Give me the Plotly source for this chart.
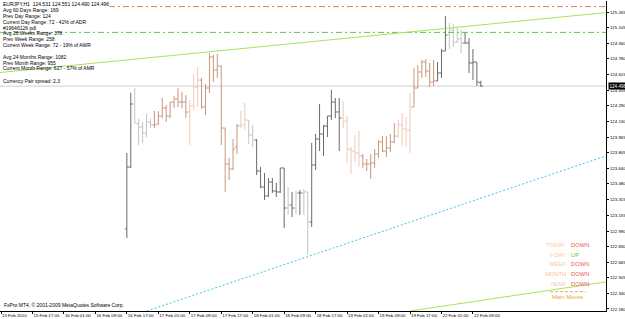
import plotly.graph_objects as go

# ---------------- data (EURJPY H1) ----------------
bar_index = list(range(32, 123))
opens = [123.011, 123.655, 124.310, 124.102, 124.071, 124.008, 124.123, 124.092, 124.102, 124.185,
         124.268, 124.185, 124.330, 124.362, 124.330, 124.330, 124.227, 124.289, 124.486, 124.559,
         124.279, 124.476, 124.798, 124.663, 124.704, 124.060, 123.686, 123.634, 123.863, 124.081,
         124.092, 124.143, 123.988, 123.936, 123.614, 123.447, 123.354, 123.499, 123.406, 123.396,
         123.645, 123.229, 123.261, 123.229, 123.385, 123.385, 123.396, 123.084, 123.676, 123.946,
         123.998, 124.081, 124.185, 124.330, 124.227, 124.164, 124.133, 123.842, 123.821, 123.801,
         123.770, 123.686, 123.686, 123.697, 123.790, 123.915, 123.821, 123.853, 123.915, 123.977,
         124.092, 124.050, 124.040, 124.279, 124.476, 124.642, 124.746, 124.652, 124.538, 124.549,
         124.632, 124.860, 125.026, 125.078, 124.954, 124.985, 124.943, 124.943, 124.736, 124.746,
         124.531]
highs = [123.801, 124.427, 124.476, 124.154, 124.123, 124.206, 124.154, 124.237, 124.237, 124.372,
         124.299, 124.330, 124.393, 124.476, 124.434, 124.403, 124.351, 124.621, 124.694, 124.580,
         124.517, 124.839, 124.819, 124.829, 124.704, 124.060, 123.749, 123.946, 124.102, 124.237,
         124.320, 124.143, 124.092, 123.946, 123.655, 123.593, 123.541, 123.541, 123.489, 123.645,
         123.645, 123.447, 123.396, 123.406, 123.416, 123.427, 123.396, 123.905, 123.998, 124.310,
         124.092, 124.185, 124.455, 124.372, 124.372, 124.341, 124.185, 123.863, 123.988, 124.029,
         123.790, 123.738, 123.790, 123.842, 123.936, 123.977, 123.977, 123.998, 124.112, 124.143,
         124.216, 124.175, 124.424, 124.684, 124.715, 124.767, 124.777, 124.736, 124.767, 124.746,
         124.881, 125.224, 125.151, 125.141, 125.099, 125.078, 125.058, 124.995, 124.881, 124.746,
         124.551]
lows = [122.918, 123.645, 124.112, 123.884, 123.905, 123.967, 124.060, 124.060, 124.092, 124.164,
        124.123, 124.164, 124.268, 124.279, 124.268, 124.164, 123.884, 124.247, 124.279, 124.258,
        124.195, 124.424, 124.538, 124.580, 123.884, 123.396, 123.520, 123.624, 123.790, 124.060,
        124.040, 123.894, 123.863, 123.572, 123.437, 123.312, 123.344, 123.385, 123.344, 123.385,
        123.022, 123.157, 123.136, 123.167, 123.157, 123.157, 122.741, 123.032, 123.624, 123.821,
        123.770, 123.967, 124.143, 124.164, 123.821, 124.060, 123.697, 123.583, 123.707, 123.655,
        123.645, 123.614, 123.531, 123.645, 123.749, 123.811, 123.759, 123.811, 123.905, 123.957,
        123.873, 123.863, 123.801, 124.279, 124.476, 124.580, 124.590, 124.486, 124.497, 124.549,
        124.580, 124.860, 124.881, 124.902, 124.943, 124.839, 124.943, 124.632, 124.559, 124.497,
        124.490]
closes = [123.655, 124.310, 124.112, 124.071, 124.008, 124.123, 124.092, 124.092, 124.185, 124.268,
          124.185, 124.330, 124.362, 124.330, 124.330, 124.227, 124.289, 124.486, 124.559, 124.279,
          124.476, 124.798, 124.663, 124.704, 124.060, 123.686, 123.634, 123.842, 124.081, 124.092,
          124.143, 123.988, 123.936, 123.614, 123.447, 123.354, 123.499, 123.406, 123.396, 123.645,
          123.229, 123.261, 123.229, 123.385, 123.385, 123.396, 123.084, 123.676, 123.946, 123.998,
          124.081, 124.185, 124.330, 124.227, 124.164, 124.133, 123.842, 123.821, 123.801, 123.770,
          123.686, 123.686, 123.697, 123.790, 123.915, 123.821, 123.853, 123.915, 123.977, 124.092,
          124.050, 124.040, 124.279, 124.476, 124.642, 124.746, 124.652, 124.538, 124.549, 124.632,
          124.860, 125.026, 125.078, 124.954, 124.985, 124.943, 124.943, 124.736, 124.746, 124.538,
          124.496]
# indicator group of each bar: d = dark, g = grey, b = brown, p = pale
bar_group = ("dd" "ggggg" "bbbbbbbbb" "ppp" "bbbbbbbbbb" "pp" "gg" "dddddddd" "gdgdgg"
             "dddddddd" "ppppp" "bbbbbbbbb" "pppp" "bbbbbb" "ddd" "gggg" "ddddd")

tick_index = [0, 8, 16, 24, 32, 40, 48, 56, 64, 72, 80, 88, 96, 104, 112, 120]
tick_labels = ["15 Feb 2010", "15 Feb 17:00", "16 Feb 01:00", "16 Feb 09:00", "16 Feb 17:00",
               "17 Feb 01:00", "17 Feb 09:00", "17 Feb 17:00", "18 Feb 01:00", "18 Feb 09:00",
               "18 Feb 17:00", "19 Feb 01:00", "19 Feb 09:00", "19 Feb 17:00", "22 Feb 01:00",
               "22 Feb 09:00"]
price_ticks = [122.180, 122.340, 122.505, 122.665, 122.830, 122.990, 123.155, 123.315, 123.480,
               123.640, 123.805, 123.965, 124.130, 124.290, 124.455, 124.615, 124.780, 124.940,
               125.105, 125.265]

bid_price = 124.496
red_level = 125.322
red_level_start = 23.9
green_level = 125.054
upper_trend_x = [-0.25, 153.8]
upper_trend_y = [124.637, 125.260]
lower_trend_x = [104.0, 153.8]
lower_trend_y = [122.159, 122.461]
cyan_trend_x = [37.1, 153.8]
cyan_trend_y = [122.159, 123.770]

comment_lines = [
    ("EURJPY,H1  124.531 124.551 124.490 124.496", 4.5),
    ("Avg 60 Days Range: 169", 10.2),
    ("Prev Day Range: 124", 15.8),
    ("Current Day Range: 72 - 42% of ADR", 21.6),
    ("#19646126 pdl", 28.0),
    ("Avg 26 Weeks Range: 378", 33.4),
    ("Prev Week Range: 258", 39.0),
    ("Current Week Range: 72 - 19% of AWR", 44.5),
    ("Avg 24 Months Range: 1082", 57.3),
    ("Prev Month Range: 955", 62.8),
    ("Current Month Range: 627 - 57% of AMR", 68.4),
    ("Currency Pair spread: 2.3", 80.8),
]
moves_periods = ["TODAY", "Y-DAY", "WEEK", "MONTH", "YEAR"]
moves_dirs = ["DOWN", "UP", "DOWN", "DOWN", "DOWN"]

# ---------------- figure ----------------
W, H = 625, 319
PL, PR, PT, PB = 0, 606, 1, 311


def px(x):
    return (x - PL) / (PR - PL)


def py(y):
    return (PB - y) / (PB - PT)


group_colors = {"d": "#6a6a6a", "g": "#c4c4c4", "b": "#c8977c", "p": "#eccab8"}

fig = go.Figure()
for g, col in group_colors.items():
    sel = [i for i, k in enumerate(bar_group) if k == g]
    fig.add_trace(go.Ohlc(
        x=[bar_index[i] for i in sel],
        open=[opens[i] for i in sel], high=[highs[i] for i in sel],
        low=[lows[i] for i in sel], close=[closes[i] for i in sel],
        increasing=dict(line=dict(color=col, width=1)),
        decreasing=dict(line=dict(color=col, width=1)),
        tickwidth=0.5, showlegend=False, hoverinfo="skip"))

x0, x1 = -0.254, 153.83
shapes = [
    dict(type="line", xref="x", yref="y", x0=x0, x1=x1, y0=bid_price, y1=bid_price,
         line=dict(color="#cfcfcf", width=1), layer="below"),
    dict(type="line", xref="x", yref="y", x0=red_level_start, x1=x1, y0=red_level, y1=red_level,
         line=dict(color="#f07a5a", width=1, dash="6px,3px,2px,3px")),
    dict(type="line", xref="x", yref="y", x0=x0, x1=x1, y0=green_level, y1=green_level,
         line=dict(color="#62c050", width=1, dash="6px,3px,2px,3px")),
    dict(type="line", xref="x", yref="y", x0=upper_trend_x[0], x1=upper_trend_x[1],
         y0=upper_trend_y[0], y1=upper_trend_y[1], line=dict(color="#a8e25a", width=1)),
    dict(type="line", xref="x", yref="y", x0=lower_trend_x[0], x1=lower_trend_x[1],
         y0=lower_trend_y[0], y1=lower_trend_y[1], line=dict(color="#a8e25a", width=1)),
    dict(type="line", xref="x", yref="y", x0=cyan_trend_x[0], x1=cyan_trend_x[1],
         y0=cyan_trend_y[0], y1=cyan_trend_y[1],
         line=dict(color="#3cc8e6", width=1, dash="2px,2px")),
    dict(type="line", xref="paper", yref="paper", x0=px(550), x1=px(586), y0=py(291.7), y1=py(291.7),
         line=dict(color="#f0a848", width=1, dash="3px,2px")),
]

FONT = "Liberation Sans"
annotations = []
for txt, y in comment_lines:
    annotations.append(dict(text=txt, xref="paper", yref="paper", x=px(2), y=py(y),
                            xanchor="left", yanchor="middle", showarrow=False,
                            font=dict(family=FONT, size=5, color="#000000"),
                            bgcolor="#ffffff" if y < 5 else None, borderpad=0))
annotations.append(dict(text="FxPro MT4, © 2001-2009 MetaQuotes Software Corp.", xref="paper",
                        yref="paper", x=px(2), y=py(305), xanchor="left", yanchor="middle",
                        showarrow=False, font=dict(family=FONT, size=5, color="#000000")))
row_y = [245, 254.5, 264.3, 274, 284]
for per, d, y in zip(moves_periods, moves_dirs, row_y):
    annotations.append(dict(text=per, xref="paper", yref="paper", x=px(567.5), y=py(y),
                            xanchor="right", yanchor="middle", showarrow=False,
                            font=dict(family=FONT, size=5.8, color="#f7c6a2")))
    annotations.append(dict(text=d, xref="paper", yref="paper", x=px(568.5), y=py(y),
                            xanchor="left", yanchor="middle", showarrow=False,
                            font=dict(family=FONT, size=5.8,
                                      color="#64c83a" if d == "UP" else "#f05a5a")))
annotations.append(dict(text="Main Moves", xref="paper", yref="paper", x=px(567.5), y=py(296.8),
                        xanchor="center", yanchor="middle", showarrow=False,
                        font=dict(family=FONT, size=5.8, color="#f0a040")))
annotations.append(dict(text="%.3f" % bid_price, xref="paper", yref="paper", x=px(608), y=py(86.3),
                        xanchor="left", yanchor="middle", showarrow=False, bgcolor="#000000",
                        borderpad=0.5, font=dict(family=FONT, size=4.6, color="#ffffff")))

fig.update_layout(
    width=W, height=H, autosize=False,
    margin=dict(l=PL, r=W - PR, t=PT, b=H - PB, pad=0),
    paper_bgcolor="#ffffff", plot_bgcolor="#ffffff",
    showlegend=False, shapes=shapes, annotations=annotations,
    xaxis=dict(range=[x0, x1], rangeslider=dict(visible=False), showgrid=False, zeroline=False,
               showline=True, linecolor="#000000", linewidth=1,
               tickmode="array", tickvals=tick_index, ticktext=tick_labels,
               ticks="outside", ticklen=2, tickcolor="#000000", tickangle=0,
               ticklabelposition="outside right",
               tickfont=dict(family=FONT, size=4.4, color="#000000")),
    yaxis=dict(range=[122.159, 125.380], side="right", showgrid=False, zeroline=False,
               showline=True, linecolor="#000000", linewidth=1,
               tickmode="array", tickvals=price_ticks, tickformat=".3f",
               ticks="outside", ticklen=2, tickcolor="#000000",
               tickfont=dict(family=FONT, size=4.4, color="#000000")),
)

fig.write_html("out.html")
